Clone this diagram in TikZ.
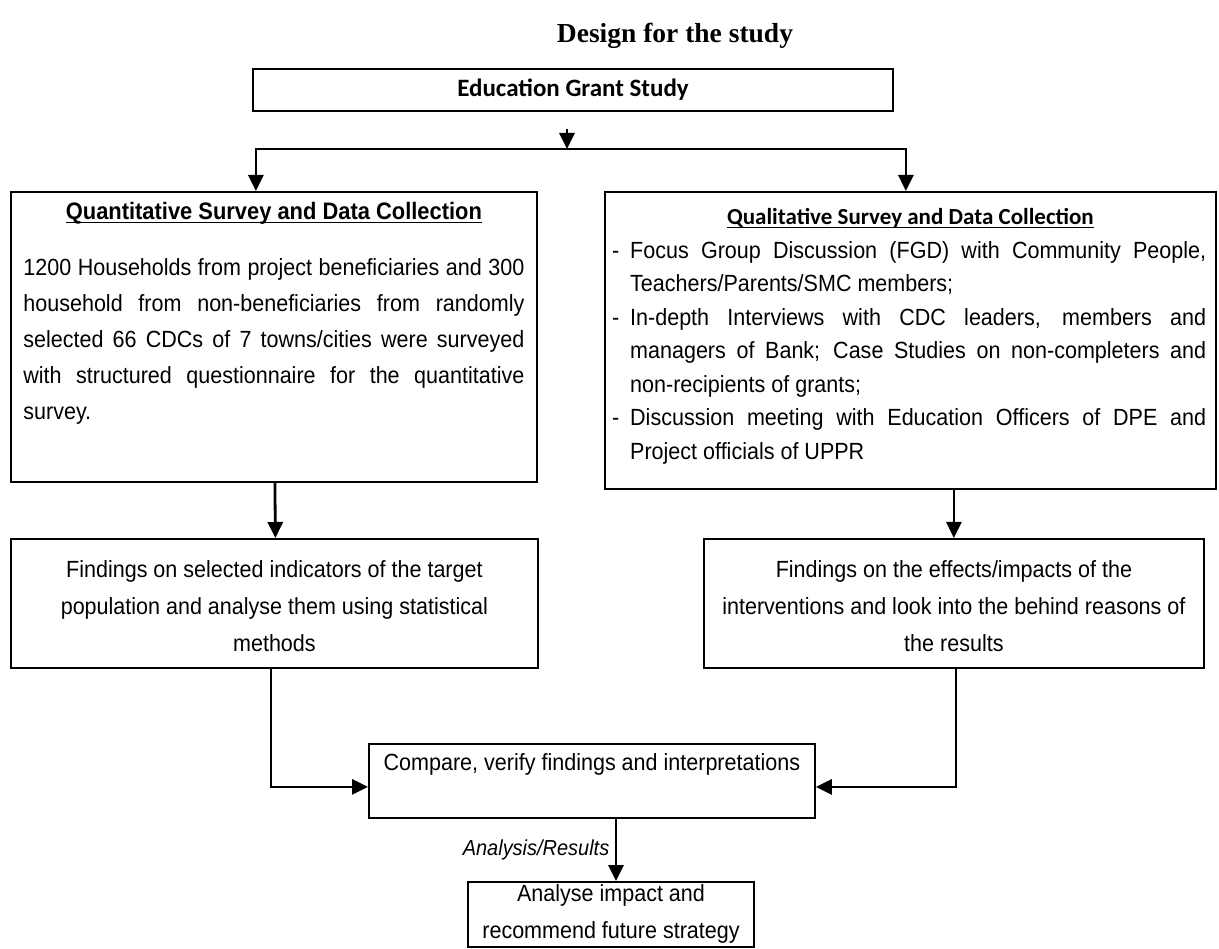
\documentclass[tikz,border=0pt]{standalone}
\usepackage{fontspec}
\setmainfont{Liberation Sans}[FakeStretch=0.92]
\newfontfamily\calibrifont{Carlito}
\newfontfamily\timesfont{Liberation Serif}
\usetikzlibrary{arrows.meta,calc,positioning}
\newcommand{\headline}[1]{\setbox0\hbox{#1}\rlap{\rule[-3.5pt]{\wd0}{1.5pt}}\box0}
\newcommand{\dashitem}{\hangindent=18pt\hangafter=1\noindent\makebox[18pt][l]{-}}
\tikzset{%
        box/.style = {draw = black, line width = 1.8pt, inner sep = 0pt},
        txt/.style = {inner sep = 0pt, font = \fontsize{23.4}{36}\selectfont},
        link/.style = {line width = 2.8pt, -{Triangle[width=15pt,length=16pt]}}
}

\begin{document}
\begin{tikzpicture}[x=1pt, y=-1pt]
        \useasboundingbox (0,0) rectangle (1219,949);
        \node[font=\timesfont\bfseries\fontsize{27.5}{32}\selectfont] (title) at (675,36) {Design for the study};
        \node[box, minimum width=640, minimum height=42,
              font=\calibrifont\bfseries\fontsize{25}{30}\selectfont] (grant) at (573,90) {Education Grant Study};
        \coordinate (split) at (567,149);

        \node[box, minimum width=526, minimum height=290, anchor=north west] (quant) at (10,191) {};
        \node[txt, anchor=base, font=\bfseries\fontsize{23.8}{26}\selectfont] (quanthead)
              at (quant.north |- 0,220) {\headline{Quantitative Survey and Data Collection}};
        \node[txt, anchor=north, text width=501, align=justify] (quantbody) at (quant.north |- 0,258)
              {1200 Households from project beneficiaries and 300\linebreak
               household from non-beneficiaries from randomly\linebreak
               selected 66 CDCs of 7 towns/cities were surveyed\linebreak
               with structured questionnaire for the quantitative\linebreak
               survey.};

        \node[box, minimum width=611, minimum height=297, anchor=north west] (qual) at (604,191) {};
        \node[txt, anchor=base, font=\calibrifont\bfseries\fontsize{23}{26}\selectfont] (qualhead)
              at (qual.north |- 0,225) {\headline{Qualitative Survey and Data Collection}};
        \node[txt, anchor=north west, text width=594, align=justify,
              font=\fontsize{23.4}{33.5}\selectfont] (qualbody) at (612,241)
              {\dashitem Focus Group Discussion (FGD) with Community People,\linebreak
               Teachers/Parents/SMC members;\par
               \dashitem In-depth Interviews with CDC leaders, members and\linebreak
               managers of Bank; Case Studies on non-completers and\linebreak
               non-recipients of grants;\par
               \dashitem Discussion meeting with Education Officers of DPE and\linebreak
               Project officials of UPPR\par};

        \node[box, minimum width=527, minimum height=129, anchor=north west] (qfind) at (10,538) {};
        \node[txt, align=center, font=\fontsize{23.4}{37}\selectfont] (qfindtxt) at ([yshift=-2.5pt]qfind.center)
              {Findings on selected indicators of the target\\
               population and analyse them using statistical\\
               methods};
        \node[box, minimum width=500, minimum height=129, anchor=north west] (rfind) at (703,538) {};
        \node[txt, align=center, font=\fontsize{23.4}{37}\selectfont] (rfindtxt) at ([yshift=-2.5pt]rfind.center)
              {Findings on the effects/impacts of the\\
               interventions and look into the behind reasons of\\
               the results};

        \node[box, minimum width=446, minimum height=74, anchor=north west] (cmp) at (368,743) {};
        \node[txt, anchor=base] (cmptxt) at (cmp.north |- 0,770) {Compare, verify findings and interpretations};

        \node[box, minimum width=286, minimum height=65, anchor=north] (final) at (611,881) {};
        \node[txt, align=center, font=\fontsize{23.4}{37}\selectfont] (finaltxt) at (611,914)
              {Analyse impact and\\ recommend future strategy};

        \draw[link] ([xshift=-6pt,yshift=-17pt]grant.south) -- (split);
        \draw[link] (split) -| ([xshift=-18pt]quant.north);
        \draw[link] (split) -| ([xshift=-4.5pt]qual.north);
        \draw[link] ([xshift=1pt]quant.south) -- ([xshift=1pt]qfind.north);
        \draw[link] (qual.south -| rfind.north) -- (rfind.north);
        \draw[link] ([xshift=-3.5pt]qfind.south) |- ([yshift=-6pt]cmp.west);
        \draw[link] ([xshift=2pt]rfind.south) |- ([yshift=-6pt]cmp.east);
        \draw[link] ([xshift=5pt]cmp.south -| final.north) -- ([xshift=5pt]final.north)
              node[midway, left=2pt, font=\itshape\fontsize{21.7}{24}\selectfont] (analysis) {Analysis/Results};
\end{tikzpicture}
\end{document}
